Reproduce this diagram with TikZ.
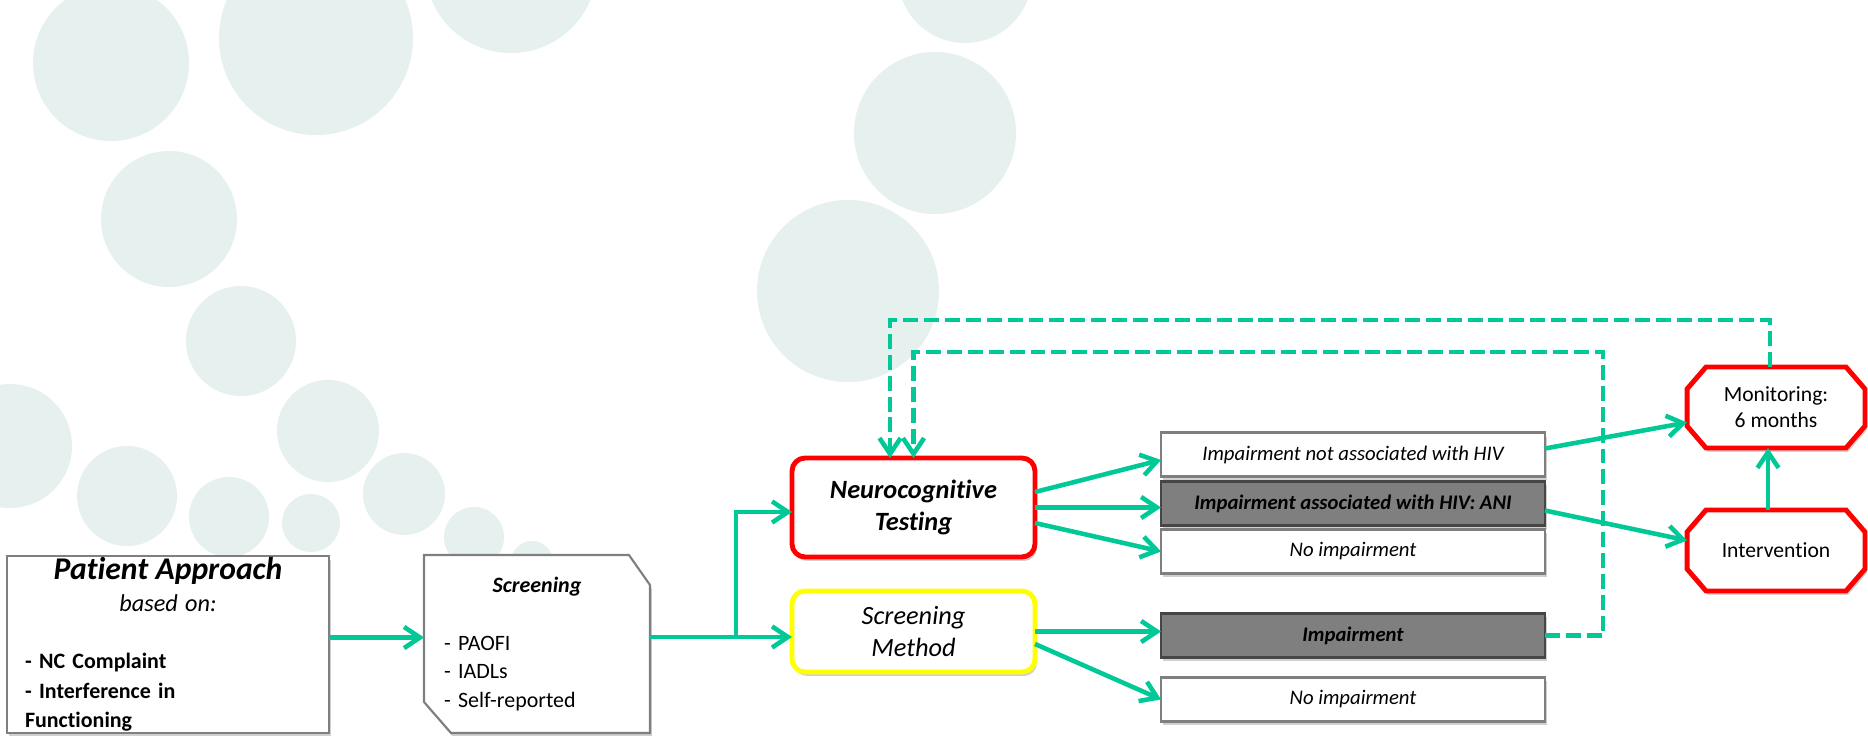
\documentclass[tikz,border=0pt]{standalone}
\usepackage{fontspec}
\setmainfont{Carlito}[Ligatures=NoCommon]
\usetikzlibrary{arrows.meta,%
                shadows,positioning,backgrounds}
\definecolor{arrowgreen}{RGB}{0,201,151}
\definecolor{bubble}{RGB}{230,241,239}
\definecolor{boxgray}{RGB}{127,127,127}
\definecolor{darkgray}{RGB}{70,70,70}
\definecolor{alertred}{RGB}{255,0,0}
\definecolor{alertyellow}{RGB}{255,255,0}

\begin{document}
\begin{tikzpicture}[x = 0.02cm, y = -0.02cm, node distance = 0.08cm]
  \tikzset{ShadowStyle/.style = {drop shadow = {shadow xshift = 0.04cm,
                                                shadow yshift = -0.08cm,
                                                fill           = black!30,
                                                opacity        = 0.6}}}
  \tikzset{BoxStyle/.style    = {shape          = rectangle,
                                 draw           = boxgray,
                                 fill           = white,
                                 line width     = 1.2pt,
                                 minimum width  = 7.68cm,
                                 minimum height = 0.88cm,
                                 inner sep      = 0pt,
                                 outer sep      = 0pt,
                                 font           = \fontsize{11.8}{14}\selectfont\itshape,
                                 ShadowStyle}}
  \tikzset{GrayBoxStyle/.style = {BoxStyle,
                                  draw          = darkgray,
                                  fill          = boxgray,
                                  font          = \fontsize{11.8}{14}\selectfont\bfseries\itshape}}
  \tikzset{TestStyle/.style   = {shape          = rectangle,
                                 rounded corners = 0.26cm,
                                 fill           = white,
                                 line width     = 2.8pt,
                                 minimum width  = 4.86cm,
                                 align          = center,
                                 inner sep      = 0pt,
                                 outer sep      = 0pt,
                                 font           = \fontsize{15}{18}\selectfont\itshape,
                                 ShadowStyle}}
  \tikzset{TextStyle/.style   = {shape          = rectangle,
                                 inner sep      = 0pt,
                                 outer sep      = 0pt}}
  \tikzset{OctStyle/.style    = {TextStyle,
                                 minimum width  = 3.56cm,
                                 minimum height = 1.62cm,
                                 align          = center,
                                 font           = \fontsize{12.3}{14.7}\selectfont}}
  \tikzset{OctLine/.style     = {draw           = alertred,
                                 fill           = white,
                                 line width     = 2.8pt,
                                 line join      = miter,
                                 ShadowStyle}}
  \tikzset{SnipLine/.style    = {draw           = boxgray,
                                 fill           = white,
                                 line width     = 1.2pt,
                                 ShadowStyle}}
  \tikzset{ArrowStyle/.style  = {draw           = arrowgreen,
                                 line width     = 2.6pt,
                                 -{Straight Barb[length=9pt,width=12pt]}}}
  \tikzset{DashStyle/.style   = {ArrowStyle,
                                 dash pattern   = on 8.5pt off 3.4pt}}

  \useasboundingbox (0,0) rectangle (1868,736);

  \node[BoxStyle, minimum width = 6.44cm, minimum height = 3.54cm,
        text width = 5.72cm, font = \fontsize{12.5}{16.9}\selectfont]
       (Patient) at (168,644.5)
       {{\centering{\fontsize{18}{18}\selectfont\bfseries\itshape Patient Approach}\\[1.3pt]
         {\fontsize{13.8}{16.9}\selectfont\itshape based on:}\par}\vspace{15.5pt}
        \bfseries - NC Complaint\\- Interference in\\Functioning};
  \node[TextStyle, minimum width = 4.52cm, minimum height = 3.56cm,
        text width = 3.72cm, font = \fontsize{12.5}{16.3}\selectfont]
       (Screening) at (537,644)
       {{\centering\bfseries\itshape Screening\par}\vspace{16.7pt}
        - PAOFI\\- IADLs\\- Self-reported};

  \node[TestStyle, draw = alertred, minimum height = 1.98cm,
        font = \fontsize{15}{18}\selectfont\bfseries\itshape]
       (Neuro) at (913.5,507.5) {Neurocognitive\\Testing};
  \node[TestStyle, draw = alertyellow, minimum height = 1.62cm,
        below = 0.68cm of Neuro] (Method) {Screening\\Method};

  \node[BoxStyle] (NotHIV) at (1353,454.5) {Impairment not associated with HIV};
  \node[GrayBoxStyle, below = 0.1cm of NotHIV] (ANI) {Impairment associated with HIV: ANI};
  \node[BoxStyle, below = of ANI] (NoImpA) {No impairment};
  \node[GrayBoxStyle, below = 0.8cm of NoImpA] (Impair) {Impairment};
  \node[BoxStyle, below = 0.4cm of Impair] (NoImpB) {No impairment};

  \node[OctStyle] (Monitor) at (1776,407.5) {Monitoring:\\6 months};
  \node[OctStyle, below = 1.24cm of Monitor] (Interv) {Intervention};

  \coordinate (Split) at (736,637);
  \draw[ArrowStyle] ([yshift=0.14cm]Patient.east) -- ([yshift=0.14cm]Patient.east -| Screening.west);
  \draw[ArrowStyle] ([yshift=0.14cm]Screening.east) -- ([yshift=0.14cm]Screening.east -| Method.west);
  \draw[ArrowStyle] (Split) |- ([yshift=-0.09cm]Neuro.west);

  \draw[ArrowStyle] ([yshift=0.31cm]Neuro.east) -- ([yshift=-0.11cm]NotHIV.west);
  \draw[ArrowStyle] (Neuro.east) -- (Neuro.east -| ANI.west);
  \draw[ArrowStyle] ([yshift=-0.31cm]Neuro.east) -- (NoImpA.west);
  \draw[ArrowStyle] (Method.east) -- (Method.east -| Impair.west);
  \draw[ArrowStyle] ([yshift=-0.25cm]Method.east) -- (NoImpB.west);

  \draw[ArrowStyle] ([yshift=0.12cm]NotHIV.east) -- ([yshift=-0.3cm]Monitor.west);
  \draw[ArrowStyle] ([yshift=-0.14cm]ANI.east) -- ([yshift=0.2cm]Interv.west);
  \draw[ArrowStyle] ([xshift=-0.16cm]Interv.north) -- ([xshift=-0.16cm]Monitor.south);

  \draw[DashStyle] ([xshift=-0.12cm]Monitor.north) -- ++(0,-47) -| ([xshift=-0.47cm]Neuro.north);
  \draw[DashStyle] (Impair.east) -- ++(58,0) -- ++(0,-283.5) -| (Neuro.north);

  \begin{scope}[on background layer]
    \clip (0,0) rectangle (1868,736);
    \fill[white] (0,0) rectangle (1868,736);
    % background bubbles
    \foreach \bx/\by/\br in {111/63/78, 316/38/97, 511/-33/86, 169/219/68,
                             241/341/55, 10/446/62, 127/496/50, 229/517/40,
                             311/523/29, 328/431/51, 404/494/41, 474/537/30,
                             532/562/21, 965/-24/67, 935/133/81, 848/291/91}
      \fill[bubble] (\bx,\by) circle[radius=\br];
    \foreach \n in {Monitor, Interv}
      \path[OctLine] ([xshift=0.38cm]\n.north west) -- ([xshift=-0.38cm]\n.north east)
        -- ([yshift=-0.44cm]\n.north east) -- ([yshift=0.44cm]\n.south east)
        -- ([xshift=-0.38cm]\n.south east) -- ([xshift=0.38cm]\n.south west)
        -- ([yshift=0.44cm]\n.south west) -- ([yshift=-0.44cm]\n.north west) -- cycle;
    \path[SnipLine] (Screening.north west) -- ([xshift=-0.42cm]Screening.north east)
      -- ([yshift=-0.6cm]Screening.north east) -- (Screening.south east)
      -- ([xshift=0.54cm]Screening.south west) -- ([yshift=0.62cm]Screening.south west) -- cycle;
  \end{scope}
\end{tikzpicture}
\end{document}
